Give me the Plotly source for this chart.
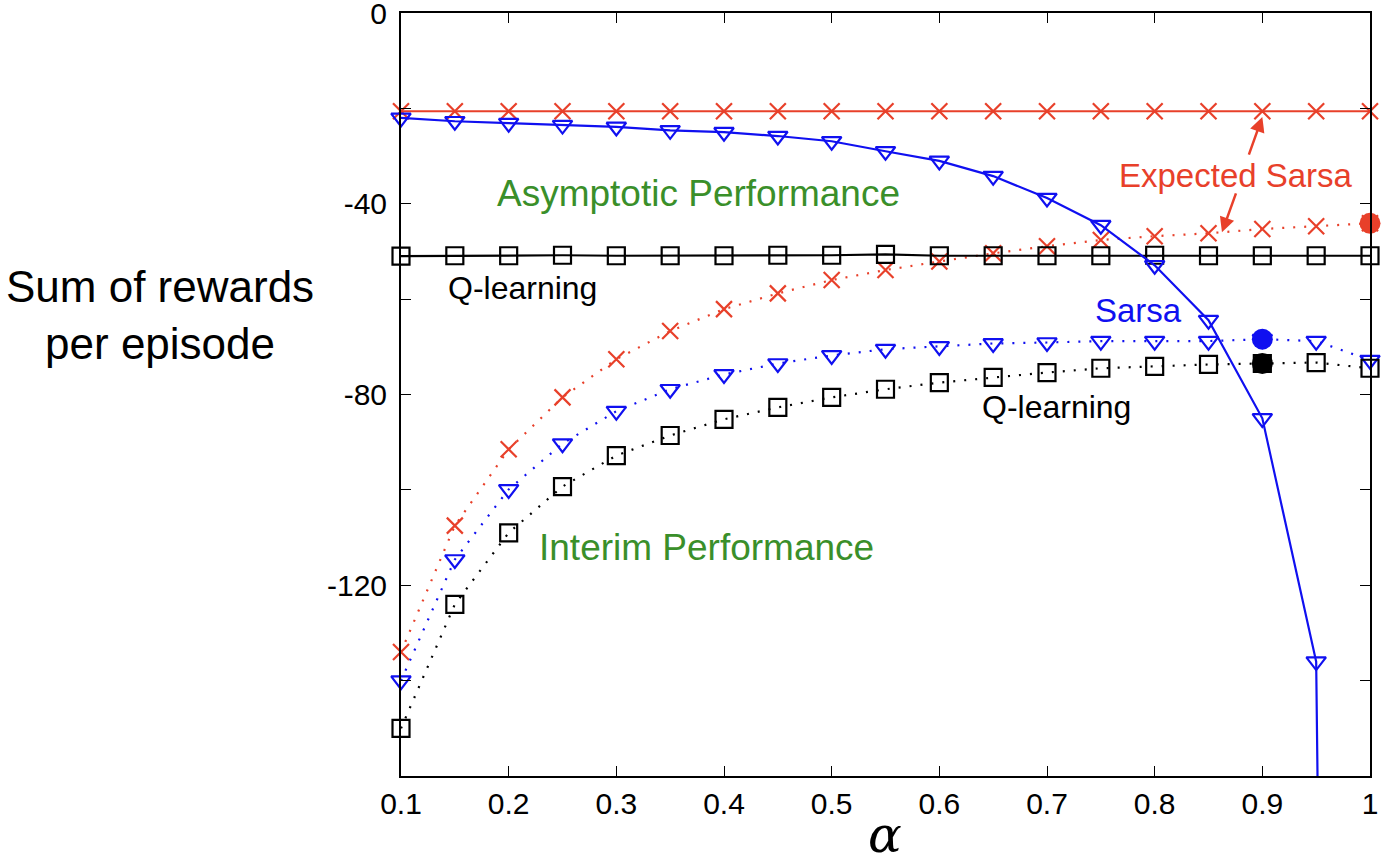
import plotly.graph_objects as go

# step sizes
alpha = [0.1, 0.15, 0.2, 0.25, 0.3, 0.35, 0.4, 0.45, 0.5, 0.55,
         0.6, 0.65, 0.7, 0.75, 0.8, 0.85, 0.9, 0.95, 1.0]

# asymptotic performance (solid)
esarsa_asym = [-20.6, -20.6, -20.6, -20.6, -20.6, -20.6, -20.6, -20.6, -20.6, -20.6,
               -20.6, -20.6, -20.6, -20.6, -20.6, -20.6, -20.6, -20.6, -20.6]
sarsa_asym = [-22.0, -22.7, -23.1, -23.5, -23.9, -24.6, -25.0, -25.8, -26.9, -29.0,
              -31.0, -34.2, -38.8, -44.5, -52.9, -64.4, -85.0, -136.0, -1100.0]
qlearn_asym = [-51.0, -50.9, -50.9, -50.8, -50.9, -50.9, -50.9, -50.8, -50.8, -50.6,
               -50.9, -50.9, -50.9, -50.9, -50.8, -50.9, -50.9, -50.9, -50.9]

# interim performance (dotted)
esarsa_int = [-134.0, -107.5, -91.5, -80.6, -72.6, -66.7, -62.1, -58.8, -56.0, -53.9,
              -52.1, -50.4, -48.9, -47.6, -46.8, -46.2, -45.3, -44.7, -44.1]
sarsa_int = [-140.0, -114.6, -99.9, -90.3, -83.5, -78.9, -75.8, -73.5, -71.8, -70.5,
             -69.9, -69.3, -69.1, -68.8, -68.8, -68.8, -68.4, -68.8, -72.8]
qlearn_int = [-150.0, -124.0, -109.0, -99.3, -92.8, -88.6, -85.2, -82.7, -80.6, -78.9,
              -77.5, -76.4, -75.4, -74.5, -74.1, -73.7, -73.5, -73.3, -74.5]

# best interim points (filled dots)
best_x = [1.0, 0.9, 0.9]
best_y = [-44.1, -68.4, -73.5]

RED = '#e8402a'
BLUE = '#1010f0'
BLACK = '#000000'
GREEN = '#3a8f2a'
FONT = 'Liberation Sans, Arial, sans-serif'

fig = go.Figure()


def add_series(y, color, symbol, dash, msize):
    # line, clipped to the plot area
    fig.add_trace(go.Scatter(x=alpha, y=y, mode='lines',
                             line=dict(color=color, width=2.2, dash=dash),
                             showlegend=False, hoverinfo='skip'))
    # markers, allowed to spill over the axes
    fig.add_trace(go.Scatter(x=alpha, y=y, mode='markers', cliponaxis=False,
                             marker=dict(symbol=symbol, size=msize, color=color,
                                         line=dict(color=color, width=2.2)),
                             showlegend=False))


DOTS = '2px,9px'
add_series(esarsa_int, RED, 'x-thin-open', DOTS, 16)
add_series(sarsa_int, BLUE, 'triangle-down-open', DOTS, 17)
add_series(qlearn_int, BLACK, 'square-open', DOTS, 17)
add_series(qlearn_asym, BLACK, 'square-open', 'solid', 17)
add_series(esarsa_asym, RED, 'x-thin-open', 'solid', 16)
add_series(sarsa_asym, BLUE, 'triangle-down-open', 'solid', 17)

fig.add_trace(go.Scatter(x=best_x, y=best_y, mode='markers', cliponaxis=False,
                         marker=dict(size=21, color=[RED, BLUE, BLACK]),
                         showlegend=False))

labels = [
    dict(x=0.376, y=-37.8, text='Asymptotic Performance', color=GREEN, size=37),
    dict(x=0.384, y=-112.1, text='Interim Performance', color=GREEN, size=37),
    dict(x=0.213, y=-57.7, text='Q-learning', color=BLACK, size=32),
    dict(x=0.709, y=-82.7, text='Q-learning', color=BLACK, size=32),
    dict(x=0.785, y=-62.3, text='Sarsa', color=BLUE, size=33),
    dict(x=0.876, y=-34.0, text='Expected Sarsa', color=RED, size=33),
]
for lb in labels:
    fig.add_annotation(x=lb['x'], y=lb['y'], xref='x', yref='y', text=lb['text'],
                       showarrow=False, font=dict(family=FONT, size=lb['size'], color=lb['color']))

# arrows from "Expected Sarsa" to its two curves
fig.add_annotation(x=0.9, y=-21.8, ax=0.887, ay=-30.0, xref='x', yref='y',
                   axref='x', ayref='y', text='', showarrow=True,
                   arrowhead=2, arrowsize=1.2, arrowwidth=2.5, arrowcolor=RED)
fig.add_annotation(x=0.8625, y=-46.0, ax=0.876, ay=-37.5, xref='x', yref='y',
                   axref='x', ayref='y', text='', showarrow=True,
                   arrowhead=2, arrowsize=1.2, arrowwidth=2.5, arrowcolor=RED)

# axis titles
fig.add_annotation(x=-0.249, y=0.604, xref='paper', yref='paper',
                   xanchor='center', yanchor='middle',
                   text='Sum of rewards<br>per episode', showarrow=False,
                   font=dict(family=FONT, size=44, color=BLACK))
fig.add_annotation(x=0.4995, y=-0.077, xref='paper', yref='paper',
                   xanchor='center', yanchor='middle',
                   text='<i>α</i>', showarrow=False,
                   font=dict(family='DejaVu Serif, serif', size=50, color=BLACK))

yticks = [0, -20, -40, -60, -80, -100, -120, -140, -160]
ytext = ['0', '', '-40', '', '-80', '', '-120', '', '']
xticks = [0.1, 0.2, 0.3, 0.4, 0.5, 0.6, 0.7, 0.8, 0.9, 1.0]
xtext = ['0.1', '0.2', '0.3', '0.4', '0.5', '0.6', '0.7', '0.8', '0.9', '1']

fig.update_xaxes(range=[0.1, 1.0], tickvals=xticks, ticktext=xtext,
                 ticks='inside', ticklen=10, tickwidth=1, tickcolor=BLACK,
                 showline=True, linecolor=BLACK, linewidth=2, mirror='ticks',
                 showgrid=False, zeroline=False, automargin=False,
                 ticklabeloverflow='allow',
                 tickfont=dict(family=FONT, size=30, color=BLACK))
fig.update_yaxes(range=[-160, 0], tickvals=yticks, ticktext=ytext,
                 ticks='inside', ticklen=10, tickwidth=1, tickcolor=BLACK,
                 showline=True, linecolor=BLACK, linewidth=2, mirror='ticks',
                 showgrid=False, zeroline=False, automargin=False,
                 ticklabelstandoff=6, ticklabeloverflow='allow',
                 tickfont=dict(family=FONT, size=30, color=BLACK))

fig.update_layout(
    width=1381, height=866,
    margin=dict(l=401, r=11, t=13, b=90, autoexpand=False),
    paper_bgcolor='white', plot_bgcolor='white',
    font=dict(family=FONT),
)

# drop the default 8px page margin so the figure fills the window
fig.write_html("out.html", config={'displayModeBar': False},
               post_script="document.body.style.margin='0';document.body.style.overflow='hidden';")
